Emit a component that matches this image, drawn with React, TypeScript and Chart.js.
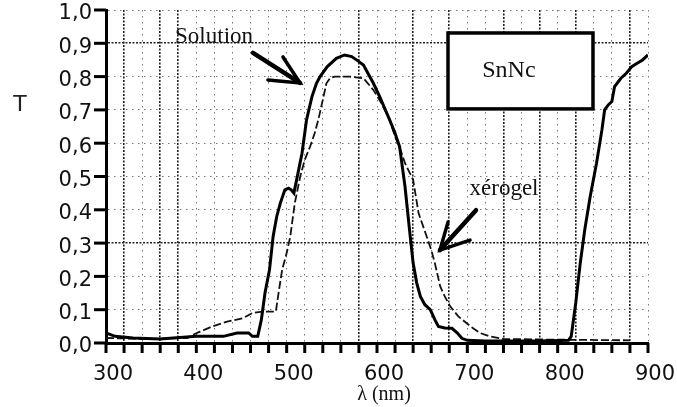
import React, { useEffect, useRef } from 'react';
import { Chart, registerables } from 'chart.js';

Chart.register(...registerables);

// ---- Data ----
const solutionNm = [
  300, 305, 310, 330, 360, 400, 430, 445, 458, 462, 468, 472, 476, 481, 485, 489, 493, 498, 502, 505,
  508, 511, 517, 522, 528, 533, 537, 545, 555, 564, 572, 580, 585, 596, 603, 614, 620, 625, 631, 636,
  640, 644, 648, 653, 659, 664, 668, 675, 683, 689, 694, 700, 720, 780, 812, 815, 820, 825, 830, 836,
  843, 849, 852, 856, 860, 863, 870, 876, 882, 888, 894, 900,
];
const solutionT = [
  0.03, 0.025, 0.02, 0.015, 0.012, 0.02, 0.02, 0.03, 0.03, 0.02, 0.02, 0.07, 0.15, 0.22, 0.32, 0.38, 0.42, 0.46, 0.465, 0.46,
  0.45, 0.49, 0.57, 0.67, 0.74, 0.78, 0.8, 0.83, 0.855, 0.865, 0.86, 0.845, 0.835, 0.78, 0.74, 0.67, 0.63, 0.59, 0.47, 0.34,
  0.24, 0.18, 0.14, 0.115, 0.1, 0.07, 0.05, 0.045, 0.044, 0.03, 0.014, 0.008, 0.006, 0.006, 0.008, 0.02, 0.12, 0.24, 0.34, 0.44,
  0.54, 0.64, 0.7, 0.715, 0.725, 0.77, 0.795, 0.81, 0.83, 0.84, 0.85, 0.865,
];
const xerogelNm = [
  300, 350, 390, 396, 404, 418, 434, 452, 462, 473, 488, 491, 495, 500, 504, 509, 515, 520, 526, 531,
  535, 540, 544, 548, 553, 570, 585, 596, 605, 614, 620, 626, 631, 640, 646, 655, 660, 664, 670, 675,
  681, 690, 699, 706, 714, 725, 740, 800, 880,
];
const xerogelT = [
  0.015, 0.012, 0.015, 0.024, 0.034, 0.05, 0.064, 0.075, 0.09, 0.094, 0.094, 0.15, 0.22, 0.27, 0.32, 0.42, 0.5, 0.55, 0.59, 0.63,
  0.67, 0.73, 0.78, 0.795, 0.8, 0.8, 0.795, 0.76, 0.72, 0.67, 0.62, 0.58, 0.54, 0.49, 0.39, 0.32, 0.28, 0.24, 0.17, 0.14,
  0.11, 0.08, 0.06, 0.045, 0.03, 0.02, 0.012, 0.01, 0.008,
];

const xMin = 300;
const xMax = 900;
const xStep = 20;
const xLabelStep = 100;
const yMin = 0;
const yMax = 1;
const yStep = 0.1;
const denseXGrid = [320, 360, 380, 580, 640, 680, 740, 780, 820, 880];
const denseYGrid = [0.3, 0.9];

const isIn = (arr: number[], v: number) => arr.some((a) => Math.abs(a - v) < 1e-6);

const annotationPlugin = {
  id: 'annotations',
  afterDraw(chart: any) {
    const { ctx, chartArea } = chart;
    const xs = chart.scales.x;
    const ys = chart.scales.y;
    const px = (v: number) => xs.getPixelForValue(v);
    const py = (v: number) => ys.getPixelForValue(v);
    ctx.save();
    ctx.setLineDash([]);
    ctx.lineDashOffset = 0;
    ctx.globalAlpha = 1;
    ctx.globalCompositeOperation = 'source-over';

    // Tick marks (outside the plot area), drawn as filled rectangles
    ctx.fillStyle = '#000';
    xs.ticks.forEach((t: any) => {
      const X = px(t.value);
      ctx.fillRect(X - 1.5, chartArea.bottom, 3, 10);
    });
    ys.ticks.forEach((t: any) => {
      const Y = py(t.value);
      ctx.fillRect(chartArea.left - 12, Y - 1.5, 12, 3);
    });

    // Box with SnNc
    const bx1 = px(678.6), bx2 = px(839.1), by1 = py(0.931), by2 = py(0.703);
    ctx.fillStyle = '#fff';
    ctx.fillRect(bx1, by1, bx2 - bx1, by2 - by1);
    ctx.lineWidth = 3.5;
    ctx.strokeStyle = '#000';
    ctx.strokeRect(bx1, by1, bx2 - bx1, by2 - by1);

    ctx.fillStyle = '#111';
    ctx.textAlign = 'center';
    ctx.textBaseline = 'middle';
    ctx.font = '24px "Liberation Serif", "DejaVu Serif", serif';
    ctx.fillText('SnNc', px(746), py(0.817));

    ctx.font = '23px "Liberation Serif", "DejaVu Serif", serif';
    ctx.fillText('Solution', px(419.6), py(0.919));
    ctx.fillText('xérogel', px(740.6), py(0.462));

    const arrow = (s: number[], t: number[], h1: number[], h2: number[]) => {
      ctx.lineCap = 'round';
      ctx.strokeStyle = '#000';
      ctx.lineWidth = 4.5;
      ctx.beginPath();
      ctx.moveTo(px(s[0]), py(s[1]));
      ctx.lineTo(px(t[0]), py(t[1]));
      ctx.stroke();
      ctx.lineWidth = 3.5;
      ctx.beginPath();
      ctx.moveTo(px(h1[0]), py(h1[1]));
      ctx.lineTo(px(t[0]), py(t[1]));
      ctx.lineTo(px(h2[0]), py(h2[1]));
      ctx.stroke();
    };
    arrow([462.7, 0.871], [514.8, 0.781], [495.9, 0.859], [479.3, 0.79]);
    arrow([709.6, 0.399], [669.7, 0.279], [678.6, 0.363], [703, 0.309]);

    // Axis titles
    ctx.fillStyle = '#222';
    ctx.font = '22px "DejaVu Sans", sans-serif';
    ctx.fillText('T', 20, 105);
    ctx.fillStyle = '#111';
    ctx.font = '20px "Liberation Serif", "DejaVu Serif", serif';
    ctx.fillText('λ (nm)', 384, 395);

    ctx.restore();
  },
};

export default function App() {
  const canvasRef = useRef<HTMLCanvasElement | null>(null);

  useEffect(() => {
    document.body.style.margin = '0';
    const canvas = canvasRef.current;
    if (!canvas) return;

    const solutionData = solutionNm.map((x, i) => ({ x, y: solutionT[i] }));
    const xerogelData = xerogelNm.map((x, i) => ({ x, y: xerogelT[i] }));

    const chart = new Chart(canvas, {
      type: 'line',
      data: {
        datasets: [
          {
            label: 'Solution',
            data: solutionData,
            borderColor: '#000',
            borderWidth: 3,
            pointRadius: 0,
            tension: 0,
            fill: false,
          },
          {
            label: 'xérogel',
            data: xerogelData,
            borderColor: '#111',
            borderWidth: 1.8,
            borderDash: [8, 3],
            pointRadius: 0,
            tension: 0,
            fill: false,
          },
        ],
      },
      options: {
        responsive: false,
        animation: false,
        layout: { padding: { left: 0, right: 29, top: 10, bottom: 0 } },
        plugins: {
          legend: { display: false },
          tooltip: { enabled: false },
        },
        scales: {
          x: {
            type: 'linear',
            min: xMin,
            max: xMax,
            ticks: {
              stepSize: xStep,
              autoSkip: false,
              maxRotation: 0,
              padding: 9,
              labelOffset: 7,
              color: '#111',
              font: { family: '"DejaVu Sans", sans-serif', size: 21 },
              callback: (v: any) => (Math.round(Number(v)) % xLabelStep === 0 ? String(Math.round(Number(v))) : ''),
            },
            grid: {
              color: (c: any) => (isIn(denseXGrid, c.tick?.value) ? '#222' : '#777'),
              lineWidth: (c: any) => (isIn(denseXGrid, c.tick?.value) ? 1.6 : 1),
              tickColor: 'rgba(0,0,0,0)',
              tickLength: 10,
            },
            border: {
              display: true,
              color: '#000',
              width: 3,
              dash: (c: any) => (isIn(denseXGrid, c.tick?.value) ? [2, 1.5] : [1.5, 4.5]),
            },
            afterFit: (s: any) => {
              s.height = 64;
              s.paddingLeft = 0;
              s.paddingRight = 0;
            },
          },
          y: {
            type: 'linear',
            min: yMin,
            max: yMax,
            ticks: {
              stepSize: yStep,
              padding: 2,
              labelOffset: 4,
              color: '#111',
              font: { family: '"DejaVu Sans", sans-serif', size: 21 },
              callback: (v: any) => Number(v).toFixed(1).replace('.', ','),
            },
            grid: {
              color: (c: any) => (isIn(denseYGrid, c.tick?.value) ? '#222' : '#777'),
              lineWidth: (c: any) => (isIn(denseYGrid, c.tick?.value) ? 1.6 : 1),
              tickColor: 'rgba(0,0,0,0)',
              tickLength: 12,
            },
            border: {
              display: true,
              color: '#000',
              width: 3,
              dash: (c: any) => (isIn(denseYGrid, c.tick?.value) ? [2, 1.5] : [1.5, 4.5]),
            },
            afterFit: (s: any) => {
              s.width = 106;
              s.paddingTop = 0;
              s.paddingBottom = 0;
            },
          },
        },
      },
      plugins: [annotationPlugin],
    });

    return () => chart.destroy();
  }, []);

  return (
    <div style={{ width: 677, height: 407, background: '#fff' }}>
      <canvas ref={canvasRef} width={677} height={407} style={{ display: 'block', width: 677, height: 407 }} />
    </div>
  );
}
